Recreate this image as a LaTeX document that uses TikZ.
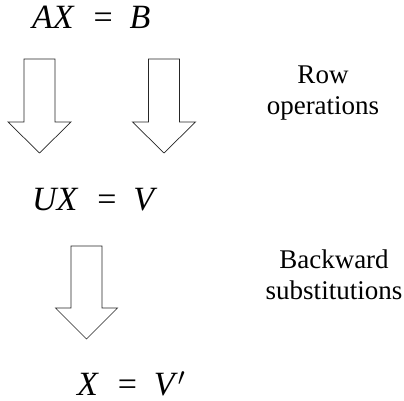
\documentclass[tikz,border=0pt]{standalone}
\usepackage{fontspec}
\setmainfont{Liberation Serif}
\usetikzlibrary{positioning}

\begin{document}
\begin{tikzpicture}[x=1pt,y=-1pt,
	every node/.style={inner sep=0pt},
	eqn/.style={font=\fontsize{34}{40}\selectfont, anchor=base west},
	lbl/.style={font=\fontsize{27}{31}\selectfont, align=center, anchor=base},
	blockarrow/.style={draw=black!85, line width=0.7pt, fill=white, line join=miter}]
	\useasboundingbox (0,0) rectangle (404,401);
	% Equations
	\node[eqn] (ax) at (32,29) {\textit{AX}\hspace{0.55em}=\hspace{0.5em}\textit{B}};
	\node[eqn] (ux) at (32,210) {\textit{UX}\hspace{0.55em}=\hspace{0.5em}\textit{V}};
	\node[eqn] (xv) at (77,395) {\textit{X}\hspace{0.55em}=\hspace{0.5em}\textit{V}$'$};
	% Block arrows
	\draw[blockarrow] (24,59) -- (55,59) -- (55,122) -- (71,122) -- (39.5,153) -- (8,122) -- (24,122) -- cycle;
	\draw[blockarrow] (148.5,59) -- (179.5,59) -- (179.5,122) -- (195.5,122) -- (164,153) -- (132.5,122) -- (148.5,122) -- cycle;
	\draw[blockarrow] (71,246) -- (102,246) -- (102,308) -- (117.5,308) -- (86.5,339) -- (55.5,308) -- (71,308) -- cycle;
	% Labels (base is the last line)
	\node[lbl] (row) at (323,114) {Row\\operations};
	\node[lbl] (back) at (334,299) {Backward\\substitutions};
\end{tikzpicture}
\end{document}
